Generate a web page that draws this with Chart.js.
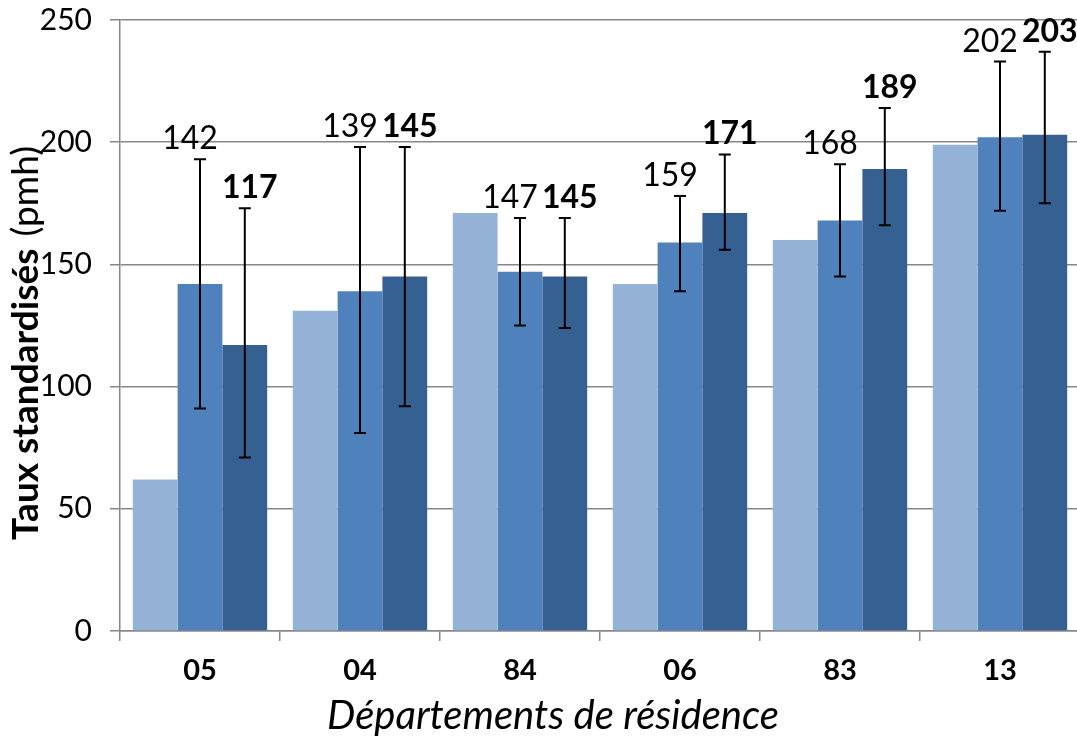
<!DOCTYPE html>
<html>
<head>
<meta charset="utf-8">
<script src="https://cdn.jsdelivr.net/npm/chart.js@4"></script>
<style>
  html, body { margin: 0; padding: 0; background: #fff; overflow: hidden; }
  #wrap { width: 1083px; height: 744px; position: relative; top: -4px; }
</style>
</head>
<body>
<div id="wrap"><canvas id="chart"></canvas></div>
<script>
const categories = ['05', '04', '84', '06', '83', '13'];
const serie1 = [62, 131, 171, 142, 160, 199];
const serie2 = [142, 139, 147, 159, 168, 202];
const serie3 = [117, 145, 145, 171, 189, 203];
const serie2Low = [91, 81, 125, 139, 145, 172];
const serie2High = [193, 198, 169, 178, 191, 233];
const serie3Low = [71, 92, 124, 156, 166, 175];
const serie3High = [173, 198, 169, 195, 214, 237];
const yTicks = [0, 50, 100, 150, 200, 250];

const gridColor = '#878787';

// error bars + value labels above them
const errorBars = {
  id: 'errorBars',
  afterDatasetsDraw(chart) {
    const ctx = chart.ctx;
    const y = chart.scales.y;
    const sets = [
      { idx: 1, low: serie2Low, high: serie2High, vals: serie2, bold: false },
      { idx: 2, low: serie3Low, high: serie3High, vals: serie3, bold: true }
    ];
    ctx.save();
    sets.forEach(s => {
      const meta = chart.getDatasetMeta(s.idx);
      meta.data.forEach((bar, i) => {
        const yl = y.getPixelForValue(s.low[i]);
        const yh = y.getPixelForValue(s.high[i]);
        ctx.strokeStyle = '#000';
        ctx.lineWidth = 2;
        ctx.beginPath();
        ctx.moveTo(bar.x, yl); ctx.lineTo(bar.x, yh);
        ctx.moveTo(bar.x - 6, yl); ctx.lineTo(bar.x + 6, yl);
        ctx.moveTo(bar.x - 6, yh); ctx.lineTo(bar.x + 6, yh);
        ctx.stroke();
        ctx.fillStyle = '#000';
        ctx.font = (s.bold ? 'bold ' : '') + '32px Lato';
        ctx.textAlign = 'center';
        ctx.textBaseline = 'alphabetic';
        ctx.fillText(String(s.vals[i]), bar.x - (s.bold ? -5 : 10), yh - 10);
      });
    });
    ctx.restore();
  }
};

// axis titles: y has a bold part + a normal part
const axisTitles = {
  id: 'axisTitles',
  afterDraw(chart) {
    const ctx = chart.ctx;
    ctx.save();
    ctx.fillStyle = '#000';
    ctx.textBaseline = 'alphabetic';
    ctx.font = 'italic 40px Lato';
    ctx.textAlign = 'center';
    ctx.fillText('Départements de résidence', 553, 733);

    ctx.translate(38, 544);
    ctx.rotate(-Math.PI / 2);
    ctx.textAlign = 'left';
    ctx.font = 'bold 37px Lato';
    const t1 = 'Taux standardisés';
    ctx.fillText(t1, 0, 0);
    const w = ctx.measureText(t1).width;
    ctx.font = '37px Lato';
    ctx.fillText('(pmh)', w + 12, 0);
    ctx.restore();
  }
};

new Chart(document.getElementById('chart'), {
  type: 'bar',
  data: {
    labels: categories,
    datasets: [
      { label: 'a', data: serie1, backgroundColor: '#95B3D7' },
      { label: 'b', data: serie2, backgroundColor: '#4F81BD' },
      { label: 'c', data: serie3, backgroundColor: '#376092' }
    ]
  },
  options: {
    responsive: true,
    maintainAspectRatio: false,
    animation: false,
    layout: { padding: { top: 6, right: 3, left: 0, bottom: 0 } },
    datasets: { bar: { categoryPercentage: 0.84, barPercentage: 1.0 } },
    plugins: { legend: { display: false }, tooltip: { enabled: false } },
    scales: {
      x: {
        offset: true,
        grid: { offset: true, drawOnChartArea: false, drawTicks: true, tickLength: 10, color: gridColor, lineWidth: 1.5 },
        border: { color: gridColor, width: 1.5 },
        ticks: { color: '#000', font: { family: 'Lato', size: 29, weight: 'bold' }, padding: 12, maxRotation: 0 },
        afterFit(scale) { scale.height = 109; }
      },
      y: {
        min: 0, max: 250,
        afterBuildTicks(scale) { scale.ticks = yTicks.map(v => ({ value: v })); },
        grid: { color: gridColor, lineWidth: 1.5, tickLength: 10 },
        border: { color: gridColor, width: 1.5 },
        ticks: { color: '#000', font: { family: 'Lato', size: 30, lineHeight: 0.4 }, padding: 18 },
        afterFit(scale) { scale.width = 120; }
      }
    }
  },
  plugins: [errorBars, axisTitles]
});
</script>
</body>
</html>
